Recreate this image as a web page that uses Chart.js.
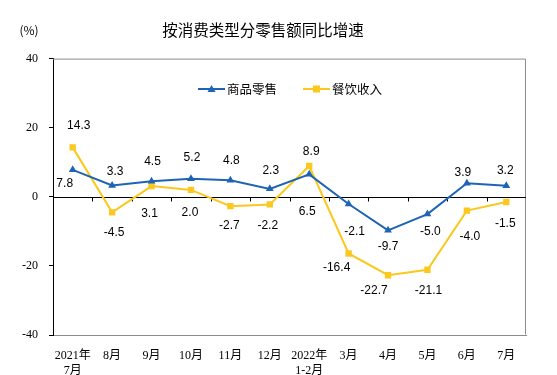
<!DOCTYPE html>
<html>
<head>
<meta charset="utf-8">
<script src="https://cdn.jsdelivr.net/npm/chart.js@4/dist/chart.umd.min.js"></script>
<style>
    html, body { margin: 0; padding: 0; background: #fff; }
    #wrap { width: 557px; height: 375px; }
</style>
</head>
<body>
<div id="wrap"><canvas id="chart"></canvas></div>
<script>
const categories = [
    ['2021年', '7月'], '8月', '9月', '10月', '11月', '12月',
    ['2022年', '1-2月'], '3月', '4月', '5月', '6月', '7月',
];
const retailGoods = [7.8, 3.3, 4.5, 5.2, 4.8, 2.3, 6.5, -2.1, -9.7, -5.0, 3.9, 3.2];
const catering = [14.3, -4.5, 3.1, 2.0, -2.7, -2.2, 8.9, -16.4, -22.7, -21.1, -4.0, -1.5];
const yTicks = [40, 20, 0, -20, -40];

// where each value label sits relative to its point
const retailLabelOffsets = [
    [-8, 14], [3, -14], [1, -20], [1, -21], [1, -20], [1, -18],
    [-2, 37], [6, 28], [0, 16], [3, 18], [-4, -11], [-1, -15],
];
const cateringLabelOffsets = [
    [6, -22], [2, 20], [-2, 28], [-1, 23], [-1, 20], [-2, 21],
    [2, -14], [-12, 14], [-14, 15], [1, 21], [3, 26], [-1, 22],
];

const BLUE = '#1E64B4';
const YELLOW = '#FAC81E';
const CJK = '"Noto Sans CJK SC", "DejaVu Sans", sans-serif';

const decorPlugin = {
    id: 'decor',
    beforeDatasetsDraw(chart) {
        const { ctx, chartArea, scales } = chart;
        const zeroY = Math.round(scales.y.getPixelForValue(0)) + 0.5;
        ctx.save();
        // frame (top, right, bottom)
        ctx.strokeStyle = '#8c8c8c';
        ctx.lineWidth = 1;
        ctx.beginPath();
        ctx.moveTo(chartArea.left, chartArea.top + 0.5);
        ctx.lineTo(chartArea.right - 0.5, chartArea.top + 0.5);
        ctx.lineTo(chartArea.right - 0.5, chartArea.bottom - 0.5);
        ctx.stroke();
        // zero line with category ticks
        ctx.strokeStyle = '#000';
        ctx.beginPath();
        ctx.moveTo(chartArea.left, zeroY);
        ctx.lineTo(chartArea.right, zeroY);
        const n = categories.length;
        const step = (chartArea.right - chartArea.left) / n;
        for (let i = 1; i < n; i++) {
            const x = Math.round(chartArea.left + step * i) + 0.5;
            ctx.moveTo(x, zeroY);
            ctx.lineTo(x, zeroY + 4);
        }
        ctx.stroke();
        ctx.restore();
    },
    afterDatasetsDraw(chart) {
        const { ctx } = chart;
        ctx.save();
        // value labels
        ctx.font = '12px "Liberation Sans", Arial, sans-serif';
        ctx.fillStyle = '#000';
        ctx.textAlign = 'center';
        ctx.textBaseline = 'middle';
        const offsets = [retailLabelOffsets, cateringLabelOffsets];
        chart.data.datasets.forEach((ds, di) => {
            const meta = chart.getDatasetMeta(di);
            meta.data.forEach((pt, i) => {
                const off = offsets[di][i];
                ctx.fillText(ds.data[i].toFixed(1), pt.x + off[0], pt.y + off[1]);
            });
        });
        // unit
        ctx.font = '12px ' + CJK;
        ctx.fillText('(%)', 29, 30);
        // legend inside the plot
        const legendY = 89;
        let x = 198;
        chart.data.datasets.forEach((ds) => {
            ctx.strokeStyle = ds.borderColor;
            ctx.fillStyle = ds.borderColor;
            ctx.lineWidth = 2;
            ctx.beginPath();
            ctx.moveTo(x, legendY);
            ctx.lineTo(x + 27, legendY);
            ctx.stroke();
            ctx.beginPath();
            const cx = x + 13.5;
            if (ds.pointStyle === 'triangle') {
                ctx.moveTo(cx, legendY - 4);
                ctx.lineTo(cx + 4, legendY + 3);
                ctx.lineTo(cx - 4, legendY + 3);
            } else {
                ctx.rect(cx - 3.5, legendY - 3.5, 7, 7);
            }
            ctx.fill();
            ctx.fillStyle = '#000';
            ctx.textAlign = 'left';
            ctx.font = '12.5px ' + CJK;
            ctx.fillText(ds.label, x + 29, legendY);
            x += 105;
        });
        ctx.restore();
    },
};

new Chart(document.getElementById('chart'), {
    type: 'line',
    data: {
        labels: categories,
        datasets: [
            {
                label: '商品零售',
                data: retailGoods,
                borderColor: BLUE,
                backgroundColor: BLUE,
                borderWidth: 2,
                pointStyle: 'triangle',
                pointRadius: 4.5,
                pointBorderWidth: 0,
                tension: 0,
            },
            {
                label: '餐饮收入',
                data: catering,
                borderColor: YELLOW,
                backgroundColor: YELLOW,
                borderWidth: 2,
                pointStyle: 'rect',
                pointRadius: 4.5,
                pointBorderWidth: 0,
                tension: 0,
            },
        ],
    },
    options: {
        responsive: true,
        maintainAspectRatio: false,
        animation: false,
        layout: { padding: { left: 0, right: 31, top: 0, bottom: 0 } },
        plugins: {
            legend: { display: false },
            tooltip: { enabled: false },
            title: {
                display: true,
                text: '按消费类型分零售额同比增速',
                color: '#000',
                font: { family: CJK, size: 15.5, weight: 'normal' },
                padding: { top: 21, bottom: 19 },
            },
        },
        scales: {
            x: {
                offset: true,
                grid: { display: false },
                border: { color: '#8c8c8c', width: 1 },
                ticks: {
                    color: '#000',
                    font: { family: '"Liberation Serif", ' + CJK, size: 12 },
                    padding: 6,
                    maxRotation: 0,
                    autoSkip: false,
                },
                afterFit(scale) { scale.height = 40; },
            },
            y: {
                min: -40,
                max: 40,
                afterBuildTicks(scale) {
                    scale.ticks = yTicks.map((v) => ({ value: v }));
                },
                grid: {
                    drawOnChartArea: false,
                    drawTicks: true,
                    tickLength: 4,
                    color: '#000',
                },
                border: { color: '#000', width: 1 },
                ticks: {
                    color: '#000',
                    font: { family: '"Liberation Serif", serif', size: 12 },
                    padding: 11,
                },
                afterFit(scale) { scale.width = 53; },
            },
        },
    },
    plugins: [decorPlugin],
});
</script>
</body>
</html>
